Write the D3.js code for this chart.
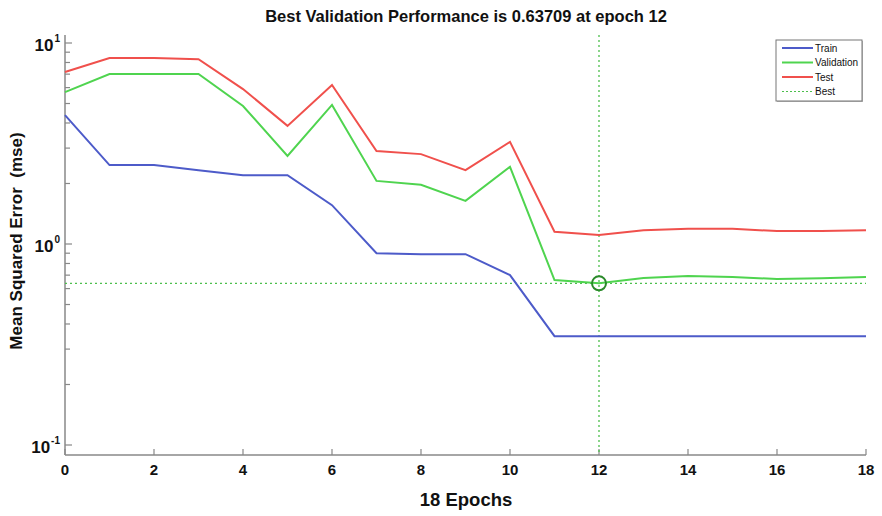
<!DOCTYPE html>
<html lang="en">
<head>
<meta charset="utf-8">
<title>Best Validation Performance</title>
<script src="https://cdn.jsdelivr.net/npm/d3@7"></script>
<style>
  body { margin: 0; background: #fff; }
  text { font-family: Arial, "Liberation Sans", sans-serif; fill: #111; }
</style>
</head>
<body>
<script>
// data
var epochs = [0, 1, 2, 3, 4, 5, 6, 7, 8, 9, 10, 11, 12, 13, 14, 15, 16, 17, 18];
var train = [4.38, 2.47, 2.47, 2.33, 2.2, 2.2, 1.56, 0.9, 0.89, 0.89, 0.7, 0.348, 0.348, 0.348, 0.348, 0.348, 0.348, 0.348, 0.348];
var validation = [5.7, 7.01, 7.01, 7.01, 4.86, 2.74, 4.92, 2.06, 1.97, 1.64, 2.42, 0.662, 0.63709, 0.677, 0.693, 0.685, 0.67, 0.675, 0.685];
var test = [7.17, 8.42, 8.42, 8.3, 5.9, 3.87, 6.18, 2.9, 2.8, 2.33, 3.22, 1.15, 1.11, 1.17, 1.19, 1.19, 1.16, 1.16, 1.17];
var bestEpoch = 12;
var bestValue = 0.63709;
var xTicks = [0, 2, 4, 6, 8, 10, 12, 14, 16, 18];
var yDecades = [0.1, 1, 10];
var legendNames = ["Train", "Validation", "Test", "Best"];

var w = 882, h = 516;
var pLeft = 65, pRight = 866, pTop = 35, pBottom = 455;

var svg = d3.select("body").append("svg")
    .attr("width", w)
    .attr("height", h);

var x = d3.scaleLinear().domain([0, 18]).range([pLeft, pRight]);
// decades at y=445, 244, 43 ; axis spans a bit beyond
var y = d3.scaleLog()
    .domain([Math.pow(10, -1 - 10 / 201), Math.pow(10, 1 + 8 / 201)])
    .range([pBottom, pTop]);

var axisColor = "#888";

// left axis line + minor ticks
svg.append("line")
    .attr("x1", pLeft).attr("x2", pLeft)
    .attr("y1", pTop).attr("y2", pBottom)
    .style("stroke", axisColor).style("stroke-width", 1.5);

var minor = [];
[0.1, 1].forEach(function(d) {
    for (var k = 1; k < 10; k++) minor.push(d * k);
});
minor.push(10);

svg.selectAll(".ytick")
    .data(minor)
    .enter()
    .append("line")
    .attr("x1", pLeft).attr("x2", function(d) {
        return yDecades.indexOf(d) >= 0 ? pLeft + 7 : pLeft + 5;
    })
    .attr("y1", function(d) { return y(d); })
    .attr("y2", function(d) { return y(d); })
    .style("stroke", axisColor).style("stroke-width", 1.2);

// decade labels 10^n
var yl = svg.selectAll(".ylab")
    .data(yDecades)
    .enter()
    .append("text")
    .attr("x", 60)
    .attr("y", function(d) { return y(d) + 8; })
    .attr("text-anchor", "end")
    .style("font-size", "17px")
    .style("font-weight", "bold");
yl.append("tspan").text("10");
yl.append("tspan")
    .attr("dy", -9)
    .attr("dx", 1)
    .style("font-size", "10px")
    .text(function(d) { return Math.round(Math.log10(d)); });

// bottom axis
svg.append("line")
    .attr("x1", pLeft).attr("x2", pRight)
    .attr("y1", pBottom).attr("y2", pBottom)
    .style("stroke", axisColor).style("stroke-width", 1.5);

svg.selectAll(".xtick")
    .data(xTicks)
    .enter()
    .append("line")
    .attr("x1", function(d) { return x(d); })
    .attr("x2", function(d) { return x(d); })
    .attr("y1", pBottom).attr("y2", pBottom - 6)
    .style("stroke", axisColor).style("stroke-width", 1.2);

svg.selectAll(".xlab")
    .data(xTicks)
    .enter()
    .append("text")
    .attr("x", function(d) { return x(d); })
    .attr("y", pBottom + 20)
    .attr("text-anchor", "middle")
    .style("font-size", "15px")
    .style("font-weight", "bold")
    .text(function(d) { return d; });

// titles
svg.append("text")
    .attr("x", 466).attr("y", 22)
    .attr("text-anchor", "middle")
    .style("font-size", "16.5px")
    .style("font-weight", "bold")
    .text("Best Validation Performance is 0.63709 at epoch 12");

svg.append("text")
    .attr("x", 466).attr("y", 506)
    .attr("text-anchor", "middle")
    .style("font-size", "18.5px")
    .style("font-weight", "bold")
    .text("18 Epochs");

svg.append("text")
    .attr("transform", "translate(22,241) rotate(-90)")
    .attr("text-anchor", "middle")
    .attr("xml:space", "preserve")
    .style("font-size", "17px")
    .style("font-weight", "bold")
    .style("white-space", "pre")
    .text("Mean Squared Error  (mse)");

// best lines
var bestColor = "#4cbf4c";
svg.append("line")
    .attr("x1", pLeft).attr("x2", pRight)
    .attr("y1", y(bestValue)).attr("y2", y(bestValue))
    .style("stroke", bestColor).style("stroke-width", 1.3)
    .style("stroke-dasharray", "2,3");
svg.append("line")
    .attr("x1", x(bestEpoch)).attr("x2", x(bestEpoch))
    .attr("y1", pTop).attr("y2", pBottom)
    .style("stroke", bestColor).style("stroke-width", 1.3)
    .style("stroke-dasharray", "2,3");

// series
var series = [
    { name: "Train", values: train, color: "#4d5bc9" },
    { name: "Validation", values: validation, color: "#4fd44f" },
    { name: "Test", values: test, color: "#f0504c" }
];

var line = d3.line()
    .x(function(d, i) { return x(epochs[i]); })
    .y(function(d) { return y(d); });

svg.selectAll(".series")
    .data(series)
    .enter()
    .append("path")
    .attr("d", function(d) { return line(d.values); })
    .style("fill", "none")
    .style("stroke", function(d) { return d.color; })
    .style("stroke-width", 2);

// best marker
svg.append("circle")
    .attr("cx", x(bestEpoch))
    .attr("cy", y(bestValue))
    .attr("r", 7)
    .style("fill", "none")
    .style("stroke", "#2a8a2a")
    .style("stroke-width", 2);

// legend
var lg = svg.append("g").attr("transform", "translate(776,40)");
lg.append("rect")
    .attr("x", 1).attr("y", 1)
    .attr("width", 86).attr("height", 61)
    .style("fill", "#bbb");
lg.append("rect")
    .attr("width", 86).attr("height", 61)
    .style("fill", "#fff")
    .style("stroke", "#777")
    .style("stroke-width", 1);

var legendColors = [series[0].color, series[1].color, series[2].color, bestColor];
var items = lg.selectAll(".item")
    .data(legendNames)
    .enter()
    .append("g")
    .attr("transform", function(d, i) { return "translate(0," + (8 + i * 14.5) + ")"; });
items.append("line")
    .attr("x1", 6).attr("x2", 37)
    .style("stroke", function(d, i) { return legendColors[i]; })
    .style("stroke-width", function(d, i) { return i == 3 ? 1.2 : 2; })
    .style("stroke-dasharray", function(d, i) { return i == 3 ? "2,2" : null; });
items.append("text")
    .attr("x", 39).attr("y", 3.5)
    .style("font-size", "10px")
    .text(function(d) { return d; });
</script>
</body>
</html>
